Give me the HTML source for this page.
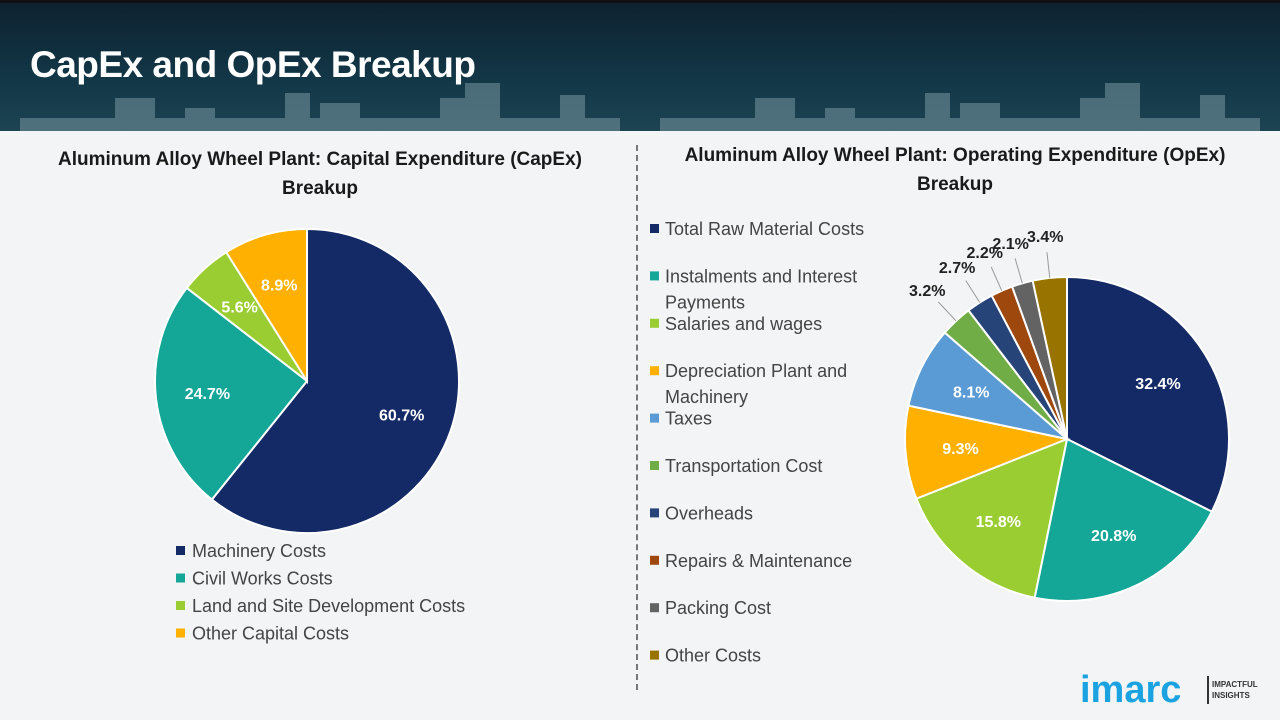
<!DOCTYPE html>
<html><head><meta charset="utf-8">
<style>
body{margin:0;width:1280px;height:720px;overflow:hidden;font-family:"Liberation Sans",sans-serif;background:#f2f4f5;position:relative}
#hdr{position:absolute;left:0;top:0;width:1280px;height:128px;background:linear-gradient(180deg,#0e2230 0%,#123747 60%,#1d4453 100%);border-top:3px solid #111}
#title{position:absolute;left:30px;top:41px;color:#fff;font-size:37px;font-weight:bold;letter-spacing:-0.5px}
.ct{position:absolute;text-align:center;font-size:19px;font-weight:bold;color:#1a1a1a;line-height:29px}
#div{position:absolute;left:636px;top:145px;height:545px;border-left:2px dashed #777}
svg{position:absolute;left:0;top:0}
</style></head><body>
<div id="hdr">
<svg width="1280" height="128">
<g fill="#6f8f99" opacity="0.6">
<rect x="20" y="115" width="600" height="13"/><rect x="115" y="95" width="40" height="33"/><rect x="185" y="105" width="30" height="23"/><rect x="285" y="90" width="25" height="38"/><rect x="320" y="100" width="40" height="28"/><rect x="440" y="95" width="30" height="33"/><rect x="465" y="80" width="35" height="48"/><rect x="560" y="92" width="25" height="36"/>
<rect x="660" y="115" width="600" height="13"/><rect x="755" y="95" width="40" height="33"/><rect x="825" y="105" width="30" height="23"/><rect x="925" y="90" width="25" height="38"/><rect x="960" y="100" width="40" height="28"/><rect x="1080" y="95" width="30" height="33"/><rect x="1105" y="80" width="35" height="48"/><rect x="1200" y="92" width="25" height="36"/>
</g></svg>
<div id="title">CapEx and OpEx Breakup</div>
</div>
<div class="ct" style="left:20px;top:145px;width:600px">Aluminum Alloy Wheel Plant: Capital Expenditure (CapEx)<br>Breakup</div>
<div class="ct" style="left:650px;top:141px;width:610px">Aluminum Alloy Wheel Plant: Operating Expenditure (OpEx)<br>Breakup</div>
<div id="div"></div>
<svg id="chart" width="1280" height="720"></svg>
<svg width="1280" height="720" style="pointer-events:none">
<text x="1080" y="702" font-size="38" font-weight="bold" fill="#1aa3e0" font-family="Liberation Sans">imarc</text>
<rect x="1207" y="676" width="2" height="28" fill="#333"/>
<text x="1212" y="687" font-size="8" font-weight="bold" fill="#333">IMPACTFUL</text>
<text x="1212" y="698" font-size="8" font-weight="bold" fill="#333">INSIGHTS</text>
</svg>
<script>
const capCats=["Machinery Costs","Civil Works Costs","Land and Site Development Costs","Other Capital Costs"];
const capVals=[60.7,24.7,5.6,8.9];
const capColors=["#142a66","#14a697","#9acd32","#ffb000"];
const opCats=["Total Raw Material Costs","Instalments and Interest Payments","Salaries and wages","Depreciation Plant and Machinery","Taxes","Transportation Cost","Overheads","Repairs & Maintenance","Packing Cost","Other Costs"];
const opVals=[32.4,20.8,15.8,9.3,8.1,3.2,2.7,2.2,2.1,3.4];
const opColors=["#142a66","#14a697","#9acd32","#ffb000","#5b9bd5","#70ad47","#264478","#9e480e","#636363","#997300"];
const svg=document.getElementById('chart');
const NS="http://www.w3.org/2000/svg";
function mk(t,a){const e=document.createElementNS(NS,t);for(const k in a)e.setAttribute(k,a[k]);svg.appendChild(e);return e;}
function pt(cx,cy,r,f){const a=f*2*Math.PI;return [cx+r*Math.sin(a),cy-r*Math.cos(a)];}
function pie(cx,cy,r,vals,colors,prefix,outsideTh){
 const tot=vals.reduce((a,b)=>a+b,0);let c=0;
 vals.forEach((v,i)=>{
  const f0=c/tot,f1=(c+v)/tot;c+=v;
  const p0=pt(cx,cy,r,f0),p1=pt(cx,cy,r,f1);
  const p=mk('path',{d:`M${cx},${cy}L${p0[0]},${p0[1]}A${r},${r} 0 ${f1-f0>0.5?1:0} 1 ${p1[0]},${p1[1]}Z`,fill:colors[i],stroke:'#fff','stroke-width':2});
  
  
  const fm=(f0+f1)/2;
  let lp,col='#fff';
  if(v<outsideTh){
   const e=pt(cx,cy,r,fm),o=pt(cx,cy,r*1.16,fm);
   const l=mk('line',{x1:e[0],y1:e[1],x2:o[0],y2:o[1],stroke:'#999','stroke-width':1});
   
   
   lp=pt(cx,cy,r*1.26,fm);col='#222';
  } else lp=pt(cx,cy,r*0.66,fm);
  const t=mk('text',{x:lp[0],y:lp[1]+6,'text-anchor':'middle','font-size':16,'font-weight':'bold',fill:col});
  t.textContent=v.toFixed(1)+'%';
  
  
 });
}
pie(307,381,152,capVals,capColors,'capex',0);
pie(1067,439,162,opVals,opColors,'opex',4);
capCats.forEach((c,i)=>{
 const y=551+i*27.5;
 const r=mk('rect',{x:176,y:y-5,width:9,height:9,fill:capColors[i]});
 
 
 const t=mk('text',{x:192,y:y+6,'font-size':18,fill:'#444'});t.textContent=c;
 
 
});
opCats.forEach((c,i)=>{
 const y=229+i*47.4;
 const r=mk('rect',{x:650,y:y-5,width:9,height:9,fill:opColors[i]});
 
 
 const t=mk('text',{x:665,y:y+6,'font-size':18,fill:'#444'});
 
 
 if(c.length>26){const sp=c.lastIndexOf(' ',26);const a=mk('tspan',{x:665});a.textContent=c.slice(0,sp);t.appendChild(a);const b=mk('tspan',{x:665,dy:26});b.textContent=c.slice(sp+1);t.appendChild(b);}
 else t.textContent=c;
});
</script>
</body></html>
